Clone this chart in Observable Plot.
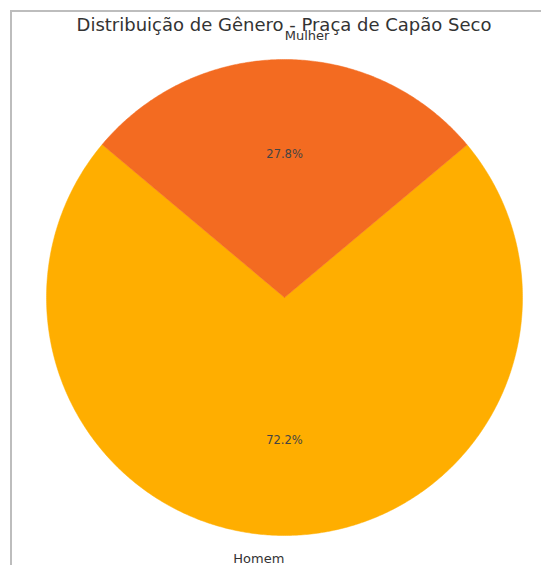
<!DOCTYPE html>
<html>
<head>
<meta charset="utf-8">
<script src="https://cdn.jsdelivr.net/npm/d3@7"></script>
<script src="https://cdn.jsdelivr.net/npm/@observablehq/plot@0.6"></script>
<style>
  html, body { margin: 0; padding: 0; background: #fff; }
  #wrap { position: relative; width: 541px; height: 565px; overflow: hidden; }
  #frame { position: absolute; left: 10px; top: 10px; width: 700px; height: 700px;
           border-top: 2px solid #bdbdbd; border-left: 2px solid #bdbdbd; box-sizing: border-box; }
  #chart { position: absolute; left: 0; top: 0; }
</style>
</head>
<body>
<div id="wrap"><div id="frame"></div><div id="chart"></div></div>
<script>
const title = "Distribuição de Gênero - Praça de Capão Seco";
const categories = ["Homem", "Mulher"];
const percentages = [72.2, 27.8];
const colors = ["#ffae00", "#f36b21"];
const startAngle = 140; // degrees, counterclockwise from +x (matplotlib style)

// Build wedges from the data
const total = d3.sum(percentages);
const wedges = [];
const labels = [];
let a0 = startAngle;
categories.forEach((name, i) => {
  const sweep = percentages[i] / total * 360;
  const a1 = a0 + sweep;
  const pts = [{name, x: 0, y: 0}];
  const n = Math.ceil(sweep * 2);
  for (let k = 0; k <= n; k++) {
    const a = (a0 + sweep * k / n) * Math.PI / 180;
    pts.push({name, x: Math.cos(a), y: Math.sin(a)});
  }
  pts.push({name, x: 0, y: 0});
  wedges.push(pts);
  const mid = (a0 + a1) / 2 * Math.PI / 180;
  const lx = 1.1 * Math.cos(mid);
  labels.push({name, pct: percentages[i].toFixed(1) + "%",
    lx, ly: 1.1 * Math.sin(mid), anchor: lx > 0 ? "start" : "end",
    px: 0.6 * Math.cos(mid), py: 0.6 * Math.sin(mid)});
  a0 = a1;
});

const W = 541, H = 565, cx = 284, cy = 297, R = 238;
const marks = wedges.map((pts, i) =>
  Plot.line(pts, {x: "x", y: "y", fill: colors[i], stroke: colors[i], strokeWidth: 0.5, curve: "linear"}));
marks.push(
  Plot.text(labels.filter(d => d.anchor === "start"), {x: "lx", y: "ly", text: "name", textAnchor: "start", fontSize: 13, fill: "#333", fontFamily: "DejaVu Sans"}),
  Plot.text(labels.filter(d => d.anchor === "end"), {x: "lx", y: "ly", text: "name", textAnchor: "end", fontSize: 13, fill: "#333", fontFamily: "DejaVu Sans"}),
  Plot.text(labels, {x: "px", y: "py", text: "pct", fontSize: 11.5, fill: "#444", fontFamily: "DejaVu Sans"})
);

const plot = Plot.plot({
  width: W, height: H,
  margin: 0,
  style: {background: "transparent", fontFamily: "DejaVu Sans"},
  x: {domain: [-cx / R, (W - cx) / R], range: [0, W], axis: null},
  y: {domain: [-(H - cy) / R, cy / R], range: [H, 0], axis: null},
  marks: [
    ...marks,
    Plot.text([title], {frameAnchor: "top", dx: 13, dy: 30, lineAnchor: "bottom", text: d => d, fontSize: 18, fill: "#333", fontFamily: "DejaVu Sans"})
  ]
});
document.getElementById("chart").appendChild(plot);
</script>
</body>
</html>
